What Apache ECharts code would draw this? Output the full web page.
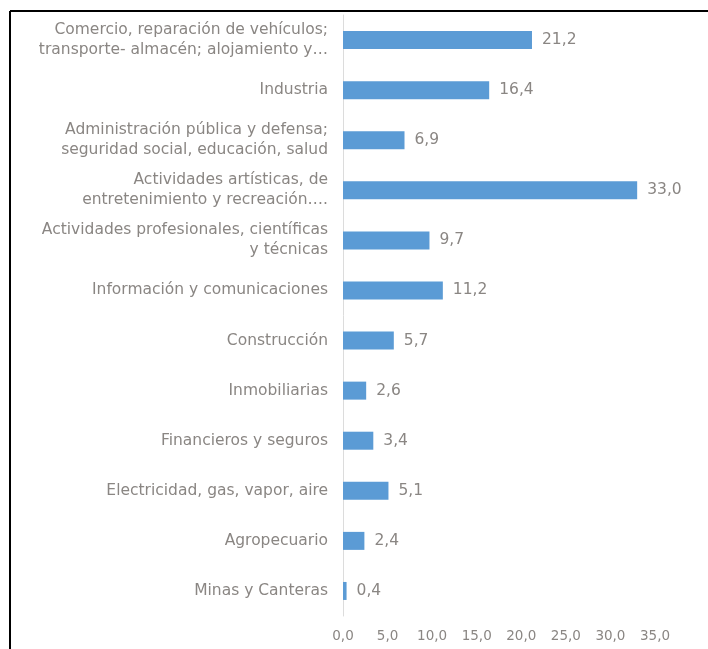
<!DOCTYPE html>
<html><head><meta charset="utf-8">
<script src="https://cdn.jsdelivr.net/npm/echarts@6/dist/echarts.min.js"></script>
<style>html,body{margin:0;padding:0;background:#fff}#c{width:708px;height:649px}</style>
</head><body><div id="c"></div>
<script>
const categories = [
  "Comercio, reparación de vehículos;\ntransporte- almacén; alojamiento y…",
  "Industria",
  "Administración pública y defensa;\nseguridad social, educación, salud",
  "Actividades artísticas, de\nentretenimiento y recreación….",
  "Actividades profesionales, científicas\ny técnicas",
  "Información y comunicaciones",
  "Construcción",
  "Inmobiliarias",
  "Financieros y seguros",
  "Electricidad, gas, vapor, aire",
  "Agropecuario",
  "Minas y Canteras"
];
const values = [21.2, 16.4, 6.9, 33.0, 9.7, 11.2, 5.7, 2.6, 3.4, 5.1, 2.4, 0.4];
const axisMin = 0, axisMax = 35, axisStep = 5;

const fmt = v => Number(v).toFixed(1).replace('.', ',');
const txt = '#8a8683';
const ff = 'DejaVu Sans';
const chart = echarts.init(document.getElementById('c'));
chart.setOption({
  animation: false,
  grid: { left: 343, right: 53, top: 15, bottom: 33, containLabel: false },
  xAxis: {
    type: 'value', min: axisMin, max: axisMax, interval: axisStep,
    splitLine: { show: false }, axisLine: { show: false }, axisTick: { show: false },
    axisLabel: { formatter: fmt, color: txt, fontFamily: ff, fontSize: 13.5, margin: 13 }
  },
  yAxis: {
    type: 'category', inverse: true, data: categories,
    axisLine: { show: true, lineStyle: { color: '#dcdcdc', width: 1 } },
    axisTick: { show: false },
    axisLabel: { color: txt, fontFamily: ff, fontSize: 15.5, lineHeight: 20, margin: 15, align: 'right' }
  },
  series: [{
    type: 'bar', data: values, barWidth: 18,
    itemStyle: { color: '#5b9bd5' },
    label: { show: true, position: 'right', distance: 10, formatter: p => fmt(p.value),
      color: txt, fontFamily: ff, fontSize: 15.5 }
  }],
  graphic: [
    { type: 'line', shape: { x1: 10, y1: 11, x2: 708, y2: 11 }, style: { stroke: '#000', lineWidth: 2 } },
    { type: 'line', shape: { x1: 10, y1: 11, x2: 10, y2: 649 }, style: { stroke: '#000', lineWidth: 2 } }
  ]
});
</script></body></html>
